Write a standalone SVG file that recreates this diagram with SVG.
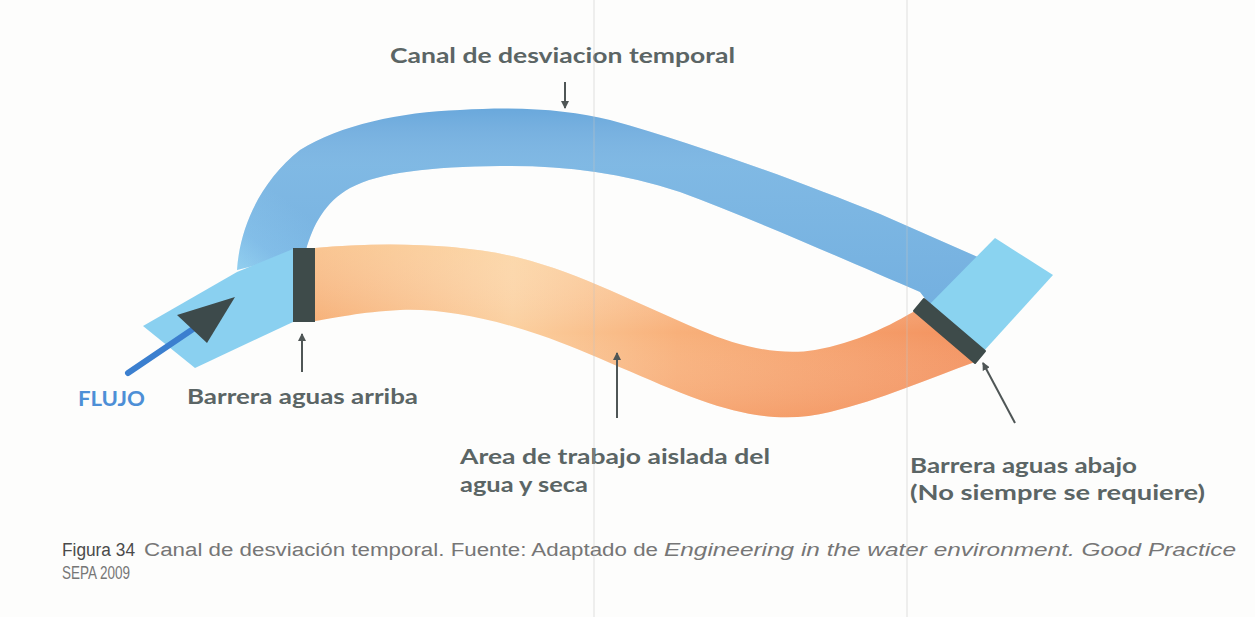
<svg xmlns="http://www.w3.org/2000/svg" width="1255" height="617" viewBox="0 0 1255 617">
<style>
.lbl{font-family:Lato,"Open Sans","Liberation Sans",sans-serif;font-weight:700;font-size:21px;fill:#5b6565}
.flujo{font-family:Lato,"Open Sans","Liberation Sans",sans-serif;font-weight:700;font-size:20px;fill:#4d8fd6}
.cap{font-family:"Liberation Sans",Arial,sans-serif;font-size:18px;fill:#767676}
.capb{font-family:"Liberation Sans",Arial,sans-serif;font-size:18px;fill:#4a4a4a}
.ptr{stroke:#4f5656;stroke-width:2;fill:none}
.scan{stroke:#c4c4c4;stroke-width:1;opacity:0.5}
</style>
<defs>
<marker id="ah" markerWidth="8" markerHeight="8" refX="7" refY="4" orient="auto" markerUnits="userSpaceOnUse">
<path d="M0,0 L8,4 L0,8 Z" fill="#4f5656"/>
</marker>
<linearGradient id="canalG" gradientUnits="userSpaceOnUse" x1="245" y1="285" x2="300" y2="210">
<stop offset="0" stop-color="#8fd1f0"/>
<stop offset="0.45" stop-color="#74b4e4"/>
<stop offset="1" stop-color="#69a8dc"/>
</linearGradient>
<linearGradient id="canalV" gradientUnits="userSpaceOnUse" x1="0" y1="108" x2="0" y2="300">
<stop offset="0" stop-color="#ffffff" stop-opacity="0"/>
<stop offset="0.3" stop-color="#b5e0f6" stop-opacity="0.3"/>
<stop offset="1" stop-color="#b5e0f6" stop-opacity="0.15"/>
</linearGradient>
<linearGradient id="orangeG" gradientUnits="userSpaceOnUse" x1="315" y1="0" x2="975" y2="0">
<stop offset="0" stop-color="#f6ad72"/>
<stop offset="0.3" stop-color="#fbcf9e"/>
<stop offset="0.55" stop-color="#f8b07a"/>
<stop offset="1" stop-color="#f3925f"/>
</linearGradient>
<linearGradient id="orangeV" gradientUnits="userSpaceOnUse" x1="0" y1="245" x2="0" y2="420">
<stop offset="0" stop-color="#fde3b8" stop-opacity="0.45"/>
<stop offset="0.5" stop-color="#ffffff" stop-opacity="0"/>
<stop offset="1" stop-color="#f08a58" stop-opacity="0.3"/>
</linearGradient>
<path id="canalShape" d="M237,270 C240,225 262,180 300,150 C340,125 400,112 460,110 C520,106 570,110 610,120 C700,145 800,182 880,214 L980,258 L930,305 L920,292 C850,262 760,222 680,192 C620,172 560,165 500,166 C430,167 380,172 350,188 C325,202 313,225 306,250 L293,256 Z"/>
<path id="areaShape" d="M315,248 C380,242 460,243 520,258 C580,273 640,305 700,330 C740,347 780,356 815,350 C855,343 890,326 918,309 L975,362 C930,378 880,400 830,412 C790,422 750,418 700,400 C650,382 590,352 540,335 C490,318 440,308 400,310 C360,312 335,318 315,321 Z"/>
</defs>
<rect x="0" y="0" width="1255" height="617" fill="#fdfdfc"/>

<g id="canal-desviacion">
<use href="#canalShape" fill="url(#canalG)"/>
<use href="#canalShape" fill="url(#canalV)"/>
</g>

<g id="entrada-flujo">
<polygon points="143,326 237,272 293,249 293,322 195,368" fill="#8ad0f0"/>
</g>

<g id="salida">
<polygon points="995,238 1053,275 983,352 922,312" fill="#8ad3f0"/>
</g>

<g id="area-trabajo">
<use href="#areaShape" fill="url(#orangeG)"/>
<use href="#areaShape" fill="url(#orangeV)"/>
</g>

<g id="barrera-arriba">
<rect x="293" y="248" width="22" height="74" fill="#3e4b4a"/>
</g>

<g id="barrera-abajo">
<polygon points="924,299 985,351 975,363 914,311" fill="#3e4b4a" stroke="#3e4b4a" stroke-width="2" stroke-linejoin="round"/>
</g>

<g id="flecha-flujo">
<line x1="128" y1="373" x2="196" y2="327" stroke="#3b7fcf" stroke-width="6" stroke-linecap="round"/>
<polygon points="177,315 235,297 207,343" fill="#3d4a4b"/>
</g>

<g id="connectors">
<line class="ptr" x1="565" y1="82" x2="565" y2="108" marker-end="url(#ah)"/>
<line class="ptr" x1="302" y1="372" x2="302" y2="334" marker-end="url(#ah)"/>
<line class="ptr" x1="617" y1="418" x2="617" y2="353" marker-end="url(#ah)"/>
<line class="ptr" x1="1015" y1="423" x2="983" y2="363" marker-end="url(#ah)"/>
</g>

<g id="labels">
<text class="lbl" x="390" y="63" textLength="345" lengthAdjust="spacingAndGlyphs">Canal de desviacion temporal</text>
<text class="flujo" x="78" y="406" textLength="67" lengthAdjust="spacingAndGlyphs">FLUJO</text>
<text class="lbl" x="187" y="404" textLength="231" lengthAdjust="spacingAndGlyphs">Barrera aguas arriba</text>
<text class="lbl" x="460" y="464" textLength="310" lengthAdjust="spacingAndGlyphs">Area de trabajo aislada del</text>
<text class="lbl" x="460" y="492" textLength="128" lengthAdjust="spacingAndGlyphs">agua y seca</text>
<text class="lbl" x="910" y="473" textLength="227" lengthAdjust="spacingAndGlyphs">Barrera aguas abajo</text>
<text class="lbl" x="910" y="500" textLength="295" lengthAdjust="spacingAndGlyphs">(No siempre se requiere)</text>
</g>

<g id="caption">
<text class="capb" x="62" y="556" textLength="73" lengthAdjust="spacingAndGlyphs">Figura 34</text>
<text class="cap" x="144" y="556" textLength="514" lengthAdjust="spacingAndGlyphs">Canal de desviación temporal. Fuente: Adaptado de</text>
<text class="cap" x="664" y="556" textLength="572" lengthAdjust="spacingAndGlyphs" font-style="italic">Engineering in the water environment. Good Practice</text>
<text class="cap" x="62" y="579" textLength="68" lengthAdjust="spacingAndGlyphs">SEPA 2009</text>
</g>

<line class="scan" x1="594" y1="0" x2="594" y2="617"/>
<line class="scan" x1="907" y1="0" x2="907" y2="617"/>
</svg>
